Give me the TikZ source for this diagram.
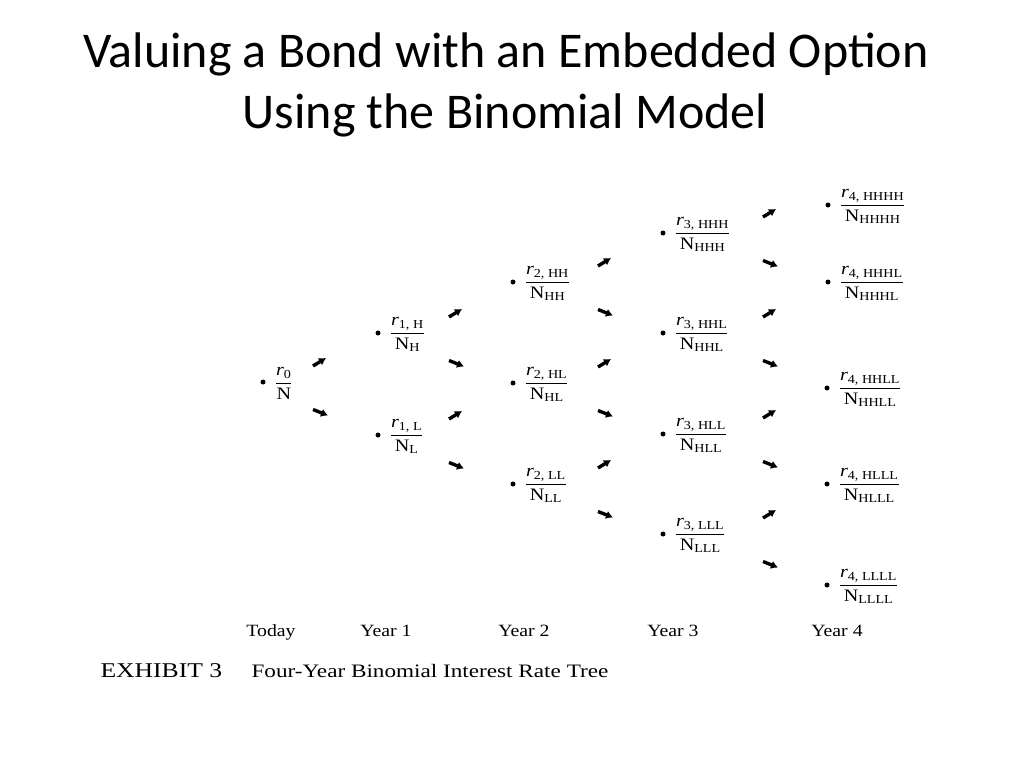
\documentclass[tikz,border=0pt]{standalone}
\usepackage{amsmath}
\usepackage{fontspec}
\setmainfont[FakeStretch=1.15]{Liberation Serif}
\newfontfamily\titlefont{Carlito}
\newfontfamily\exhfont[FakeStretch=1.22]{Liberation Serif}
\usetikzlibrary{arrows.meta, positioning, calc}

\tikzset{
  dot/.style={circle, fill, inner sep=0pt, minimum size=5pt},
  val/.style={inner sep=0pt, yshift=-1.5pt, font=\fontsize{17.5}{20}\selectfont},
  stub/.style={line width=3.4pt, -{Latex[length=7pt,width=8.5pt]}},
  yearlbl/.style={anchor=base, font=\fontsize{17.2}{20}\selectfont},
  ttl/.style={anchor=base, font=\titlefont\fontsize{50}{60}\selectfont},
}
\newcommand{\rval}[2]{$\dfrac{\textit{r}_{\text{#1}}}{\text{N}_{\text{#2}}}$}

\begin{document}
\begin{tikzpicture}[x=1pt, y=-1pt]
  \useasboundingbox (0,0) rectangle (1024,768);
  % Title
  \node[ttl] (ttlA) at (506,67) {Valuing a Bond with an Embedded Option};
  \node[ttl] (ttlB) at (505,128) {Using the Binomial Model};
  % Today
  \node[dot] (d0) at (263,382) {};
  \node[val, right=9pt of d0] (r0) {$\dfrac{\textit{r}_{\text{0}}}{\text{N}}$};
  % Year 1
  \node[dot] (dH) at (378,333) {};
  \node[val, right=9pt of dH] (rH) {\rval{1, H}{H}};
  \node[dot] (dL) at (378,435) {};
  \node[val, right=9pt of dL] (rL) {\rval{1, L}{L}};
  % Year 2
  \node[dot] (dHH) at (513,282) {};
  \node[val, right=9pt of dHH] (rHH) {\rval{2, HH}{HH}};
  \node[dot] (dHL) at (513,383) {};
  \node[val, right=9pt of dHL] (rHL) {\rval{2, HL}{HL}};
  \node[dot] (dLL) at (513,484) {};
  \node[val, right=9pt of dLL] (rLL) {\rval{2, LL}{LL}};
  % Year 3
  \node[dot] (dHHH) at (663,233) {};
  \node[val, right=9pt of dHHH] (rHHH) {\rval{3, HHH}{HHH}};
  \node[dot] (dHHL) at (663,333) {};
  \node[val, right=9pt of dHHL] (rHHL) {\rval{3, HHL}{HHL}};
  \node[dot] (dHLL) at (663,434) {};
  \node[val, right=9pt of dHLL] (rHLL) {\rval{3, HLL}{HLL}};
  \node[dot] (dLLL) at (663,534) {};
  \node[val, right=9pt of dLLL] (rLLL) {\rval{3, LLL}{LLL}};
  % Year 4
  \node[dot] (dHHHH) at (828,205) {};
  \node[val, right=9pt of dHHHH] (rHHHH) {\rval{4, HHHH}{HHHH}};
  \node[dot] (dHHHL) at (828,282) {};
  \node[val, right=9pt of dHHHL] (rHHHL) {\rval{4, HHHL}{HHHL}};
  \node[dot] (dHHLL) at (827,388) {};
  \node[val, right=9pt of dHHLL] (rHHLL) {\rval{4, HHLL}{HHLL}};
  \node[dot] (dHLLL) at (827,484) {};
  \node[val, right=9pt of dHLLL] (rHLLL) {\rval{4, HLLL}{HLLL}};
  \node[dot] (dLLLL) at (827,585) {};
  \node[val, right=9pt of dLLLL] (rLLLL) {\rval{4, LLLL}{LLLL}};
  % Up and down arrows after each node
  \foreach \p/\dx in {d0/50, dH/71, dL/71, dHH/85, dHL/85, dLL/85,
                      dHHH/100, dHHL/100, dHLL/100, dLLL/100}{
    \draw[stub] ($(\p)+(\dx,-16)$) -- ++(13,-8);
    \draw[stub] ($(\p)+(\dx,27.5)$) -- ++(15,6);
  }
  % Year labels
  \node[yearlbl] (yr0) at (271,636) {Today};
  \node[yearlbl] (yr1) at (386,636) {Year 1};
  \node[yearlbl] (yr2) at (524,636) {Year 2};
  \node[yearlbl] (yr3) at (673,636) {Year 3};
  \node[yearlbl] (yr4) at (837,636) {Year 4};
  % Caption
  \node[anchor=base west, font=\exhfont\fontsize{21}{24}\selectfont] (exh) at (97,677) {EXHIBIT 3};
  \node[anchor=base west, font=\exhfont\fontsize{19}{22}\selectfont] (cap) at (248,677) {Four-Year Binomial Interest Rate Tree};
\end{tikzpicture}
\end{document}
